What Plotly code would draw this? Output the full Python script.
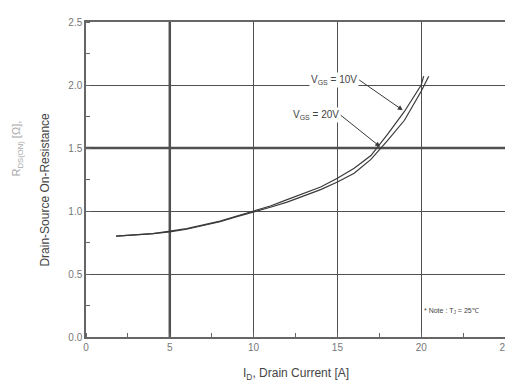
import plotly.graph_objects as go

# Data
id_10v = [1.8, 3, 4, 5, 6, 7, 8, 9, 10, 11, 12, 13, 14, 15, 16, 17, 18, 19, 20, 20.15]
r_10v = [0.80, 0.81, 0.82, 0.84, 0.86, 0.89, 0.92, 0.96, 1.00, 1.04, 1.09, 1.14, 1.19, 1.26, 1.34, 1.44, 1.61, 1.79, 2.00, 2.07]
id_20v = [1.8, 3, 4, 5, 6, 7, 8, 9, 10, 11, 12, 13, 14, 15, 16, 17, 18, 19, 20, 20.45]
r_20v = [0.80, 0.81, 0.82, 0.835, 0.855, 0.885, 0.915, 0.955, 0.99, 1.03, 1.07, 1.12, 1.17, 1.23, 1.30, 1.41, 1.56, 1.72, 1.95, 2.07]
x_ticks = [0, 5, 10, 15, 20, 25]
y_ticks = [0.0, 0.5, 1.0, 1.5, 2.0, 2.5]
y_tick_labels = ["0.0", "0.5", "1.0", "1.5", "2.0", "2.5"]

line_col = "#3a3a3a"
grid_col = "#505050"
font_fam = "Liberation Sans, Arial, sans-serif"

fig = go.Figure()
fig.add_trace(go.Scatter(x=id_10v, y=r_10v, mode="lines", line=dict(color=line_col, width=1.2), showlegend=False))
fig.add_trace(go.Scatter(x=id_20v, y=r_20v, mode="lines", line=dict(color=line_col, width=1.2), showlegend=False))

# thicker emphasis grid lines
fig.add_shape(type="line", x0=5, x1=5, y0=0, y1=2.5, xref="x", yref="y", line=dict(color=grid_col, width=2.5), layer="below")
fig.add_shape(type="line", x0=0, x1=25, y0=1.5, y1=1.5, xref="x", yref="y", line=dict(color=grid_col, width=2.5), layer="below")

fig.add_annotation(x=18.9, y=1.80, ax=16.3, ay=2.04, axref="x", ayref="y",
                   text="V<sub>GS</sub> = 10V", showarrow=True, arrowhead=2, arrowsize=1, arrowwidth=1,
                   arrowcolor=line_col, font=dict(size=10, color="#444", family=font_fam),
                   bgcolor="white", xanchor="right")
fig.add_annotation(x=17.55, y=1.51, ax=15.2, ay=1.76, axref="x", ayref="y",
                   text="V<sub>GS</sub> = 20V", showarrow=True, arrowhead=2, arrowsize=1, arrowwidth=1,
                   arrowcolor=line_col, font=dict(size=10, color="#444", family=font_fam),
                   bgcolor="white", xanchor="right")
fig.add_annotation(x=21.8, y=0.21, xref="x", yref="y", text="* Note : T<sub>J</sub> = 25\u2103",
                   showarrow=False, font=dict(size=7, color="#444", family=font_fam), bgcolor="white")

fig.add_annotation(x=-0.185, y=0.60, xref="paper", yref="paper", text="R<sub>DS(ON)</sub> [\u03a9],",
                   showarrow=False, textangle=-90, font=dict(size=11, color="#aaaaaa", family=font_fam))
fig.add_annotation(x=-0.12, y=0.467, xref="paper", yref="paper", text="Drain-Source On-Resistance",
                   showarrow=False, textangle=-90, font=dict(size=12, color="#444", family=font_fam))
fig.add_annotation(x=0.5, y=-0.085, xref="paper", yref="paper", yanchor="top", text="I<sub>D</sub>, Drain Current [A]",
                   showarrow=False, font=dict(size=12, color="#444", family=font_fam))

fig.update_layout(
    width=505, height=376,
    margin=dict(l=78, r=8, t=14, b=47),
    paper_bgcolor="white", plot_bgcolor="white",
    font=dict(family=font_fam, color="#555"),
    xaxis=dict(range=[0, 25], tickvals=x_ticks, showgrid=True, gridcolor=grid_col, gridwidth=1,
               showline=True, linecolor="#666", linewidth=1.5, mirror=True, zeroline=False, automargin=False,
               ticks="", tickfont=dict(size=10, color="#777"), ticklabeloverflow="allow",
               minor=dict(ticks="inside", dtick=2.5, tick0=0, ticklen=4, tickcolor="#666", showgrid=False)),
    yaxis=dict(range=[0, 2.5], tickvals=y_ticks, ticktext=y_tick_labels, showgrid=True, gridcolor=grid_col, gridwidth=1,
               showline=True, linecolor="#666", linewidth=1.5, mirror=True, zeroline=False, automargin=False,
               ticks="", tickfont=dict(size=10, color="#777"),
               minor=dict(ticks="inside", dtick=0.25, tick0=0, ticklen=4, tickcolor="#666", showgrid=False)),
)

fig.write_html("out.html")
